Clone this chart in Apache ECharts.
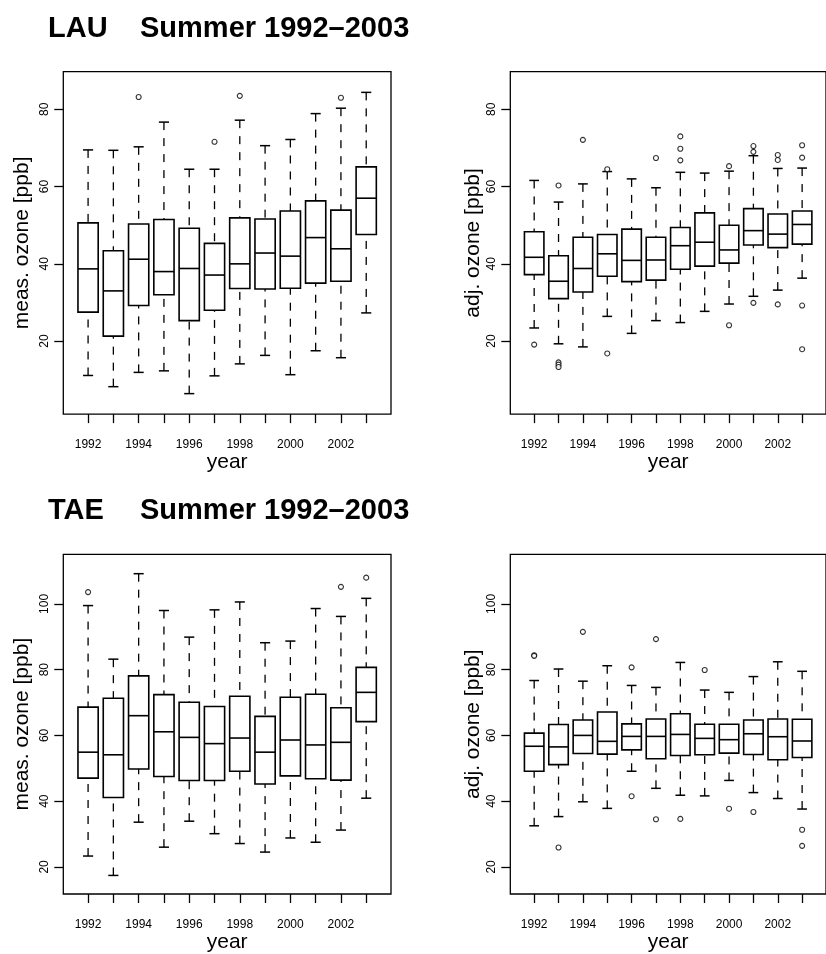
<!DOCTYPE html>
<html>
<head>
<meta charset="utf-8">
<script src="https://cdn.jsdelivr.net/npm/echarts@6/dist/echarts.min.js"></script>
<style>
html,body{margin:0;padding:0;background:#fff;}
#chart{width:826px;height:954px;}
</style>
</head>
<body>
<div id="chart"></div>
<script>
// ---- data (box stats per year: [lower whisker, Q1, median, Q3, upper whisker]) ----
const years = [1992,1993,1994,1995,1996,1997,1998,1999,2000,2001,2002,2003];
const labelYears = [1992,1994,1996,1998,2000,2002];
const ticksTop = [20,40,60,80];
const ticksBottom = [20,40,60,80,100];

const lauMeasBoxes = [
  [11.1,27.5,38.7,50.6,69.5],[8.2,21.3,33.0,43.4,69.4],[11.9,29.2,41.2,50.3,70.3],
  [12.3,32.0,38.0,51.5,76.7],[6.4,25.3,38.8,49.2,64.5],[11.0,28.0,37.1,45.3,64.5],
  [14.1,33.6,40.0,51.9,77.2],[16.3,33.5,42.8,51.6,70.6],[11.3,33.7,42.0,53.7,72.2],
  [17.5,35.0,46.8,56.3,78.9],[15.7,35.5,43.9,53.9,80.3],[27.3,47.6,57.0,65.1,84.4]
];
const lauMeasOut = [[1994,83.2],[1997,71.6],[1998,83.5],[2002,83.0]];

const lauAdjBoxes = [
  [23.4,37.2,41.7,48.3,61.6],[19.3,31.0,35.5,42.1,56.0],[18.5,32.7,38.8,46.9,60.7],
  [26.4,36.8,42.6,47.6,63.9],[22.0,35.4,40.9,49.0,62.0],[25.3,35.8,41.0,46.9,59.7],
  [24.8,38.6,44.7,49.4,63.7],[27.7,39.4,45.6,53.2,63.5],[29.6,40.2,43.6,50.0,64.0],
  [31.6,44.9,48.6,54.3,68.0],[33.2,44.2,47.7,52.9,64.7],[36.3,45.1,50.2,53.7,64.8]
];
const lauAdjOut = [[1992,19.1],[1993,60.3],[1993,14.5],[1993,13.9],[1993,13.3],[1994,72.1],
  [1995,64.5],[1995,16.8],[1997,67.4],[1998,73.0],[1998,69.8],[1998,66.8],[2000,65.3],[2000,24.1],
  [2001,70.5],[2001,69.0],[2001,29.9],[2002,68.2],[2002,66.9],[2002,29.5],
  [2003,70.7],[2003,67.5],[2003,29.2],[2003,17.9]];

const taeMeasBoxes = [
  [23.3,47.0,54.9,68.6,99.5],[17.4,41.1,54.1,71.3,83.2],[33.6,49.8,66.0,78.1,109.2],
  [26.0,47.5,61.1,72.4,98.0],[33.9,46.3,59.4,70.1,89.9],[30.1,46.3,57.5,68.8,98.2],
  [27.1,49.1,59.2,71.9,100.6],[24.5,45.2,54.9,65.8,88.2],[28.8,47.7,58.6,71.6,88.7],
  [27.5,46.8,57.1,72.5,98.6],[31.2,46.4,57.9,68.4,96.2],[40.9,64.2,73.1,80.7,101.7]
];
const taeMeasOut = [[1992,103.6],[2002,105.2],[2003,108.0]];

const taeAdjBoxes = [
  [32.5,49.1,56.7,60.7,76.7],[35.3,51.1,56.5,63.3,80.2],[39.8,54.5,60.0,64.7,76.5],
  [37.8,54.3,58.2,67.1,81.2],[49.1,55.6,59.7,63.5,75.2],[43.9,52.9,59.7,65.0,74.6],
  [41.8,53.9,60.3,66.6,82.2],[41.6,54.1,59.1,63.4,73.8],[46.3,54.6,58.7,63.4,73.1],
  [42.6,54.2,60.5,64.7,77.9],[40.8,52.6,59.6,65.0,82.4],[37.6,53.3,58.3,64.9,79.5]
];
const taeAdjOut = [[1992,84.4],[1992,84.2],[1993,25.9],[1994,91.5],[1996,80.7],[1996,41.5],
  [1997,89.3],[1997,34.5],[1998,34.6],[1999,79.9],[2000,37.7],[2001,36.7],[2003,31.3],[2003,26.4]];

// ---- chart ----
const FONT = "'Liberation Sans', Arial, Helvetica, sans-serif";
const chart = echarts.init(document.getElementById('chart'), null, {renderer:'canvas'});

const panels = [
  {left:63.3,  top:71.7,  boxes:lauMeasBoxes, out:lauMeasOut, yMin:1.1,  yMax:89.75, ticks:ticksTop,    name:'meas. ozone [ppb]', gap:30.5},
  {left:510.3, top:71.7,  boxes:lauAdjBoxes,  out:lauAdjOut,  yMin:1.1,  yMax:89.75, ticks:ticksTop,    name:'adj. ozone [ppb]',  gap:26.5},
  {left:63.3,  top:554.3, boxes:taeMeasBoxes, out:taeMeasOut, yMin:11.75,yMax:115.1, ticks:ticksBottom, name:'meas. ozone [ppb]', gap:30.5},
  {left:510.3, top:554.3, boxes:taeAdjBoxes,  out:taeAdjOut,  yMin:11.75,yMax:115.1, ticks:ticksBottom, name:'adj. ozone [ppb]',  gap:26.5}
];
const W = 327.7, H = 342.4;

function renderBox(params, api) {
  const x = api.value(0), lo = api.value(1), q1 = api.value(2), md = api.value(3), q3 = api.value(4), hi = api.value(5);
  const hw = 0.4, cw = 0.2;
  const a = api.coord([x - hw, q3]), b = api.coord([x + hw, q1]);
  const m1 = api.coord([x - hw, md]), m2 = api.coord([x + hw, md]);
  const pLo = api.coord([x, lo]), pQ1 = api.coord([x, q1]), pQ3 = api.coord([x, q3]), pHi = api.coord([x, hi]);
  const cL1 = api.coord([x - cw, lo]), cL2 = api.coord([x + cw, lo]);
  const cH1 = api.coord([x - cw, hi]), cH2 = api.coord([x + cw, hi]);
  const solid = {stroke:'#000', lineWidth:1.5, fill:null};
  const dashed = {stroke:'#000', lineWidth:1.3, lineDash:[8,8], fill:null};
  return {type:'group', children:[
    {type:'line', shape:{x1:pLo[0], y1:pLo[1], x2:pQ1[0], y2:pQ1[1]}, style:dashed},
    {type:'line', shape:{x1:pHi[0], y1:pHi[1], x2:pQ3[0], y2:pQ3[1]}, style:dashed},
    {type:'line', shape:{x1:cL1[0], y1:cL1[1], x2:cL2[0], y2:cL2[1]}, style:solid},
    {type:'line', shape:{x1:cH1[0], y1:cH1[1], x2:cH2[0], y2:cH2[1]}, style:solid},
    {type:'rect', shape:{x:a[0], y:a[1], width:b[0]-a[0], height:b[1]-a[1]}, style:{stroke:'#000', lineWidth:1.6, fill:'#fff'}},
    {type:'line', shape:{x1:m1[0], y1:m1[1], x2:m2[0], y2:m2[1]}, style:{stroke:'#000', lineWidth:1.6}}
  ]};
}

const grid = [], xAxis = [], yAxis = [], series = [];
panels.forEach((p, i) => {
  grid.push({left:p.left, top:p.top, width:W, height:H, show:true, borderColor:'#000', borderWidth:1.3, backgroundColor:'transparent', containLabel:false});
  xAxis.push({
    type:'value', gridIndex:i, min:1991.02, max:2003.98,
    name:'year', nameLocation:'middle', nameGap:38,
    nameTextStyle:{fontFamily:FONT, fontSize:21, color:'#000'},
    axisLine:{show:false},
    axisTick:{show:true, length:9, lineStyle:{color:'#000', width:1.3}, customValues:years},
    axisLabel:{show:true, margin:25, fontFamily:FONT, fontSize:12, color:'#000', customValues:labelYears, formatter:v=>String(v), hideOverlap:false},
    splitLine:{show:false}
  });
  yAxis.push({
    type:'value', gridIndex:i, min:p.yMin, max:p.yMax,
    name:p.name, nameLocation:'middle', nameGap:p.gap, nameRotate:90,
    nameTextStyle:{fontFamily:FONT, fontSize:21, color:'#000'},
    axisLine:{show:false},
    axisTick:{show:true, length:9, lineStyle:{color:'#000', width:1.3}, customValues:p.ticks},
    axisLabel:{show:true, rotate:90, margin:13, fontFamily:FONT, fontSize:12, color:'#000', customValues:p.ticks, hideOverlap:false},
    splitLine:{show:false}
  });
  series.push({
    type:'custom', xAxisIndex:i, yAxisIndex:i,
    renderItem:renderBox,
    encode:{x:0, y:[1,2,3,4,5]},
    data:p.boxes.map((b, k) => [years[k]].concat(b)),
    silent:true, animation:false, clip:false
  });
  series.push({
    type:'scatter', xAxisIndex:i, yAxisIndex:i,
    data:p.out, symbol:'circle', symbolSize:5,
    itemStyle:{color:'#fff', borderColor:'#000', borderWidth:1.1},
    silent:true, animation:false, z:5
  });
});

const titleStyle = {fontFamily:FONT, fontSize:29, fontWeight:'bold', fill:'#000', verticalAlign:'top'};
chart.setOption({
  backgroundColor:'#fff',
  animation:false,
  grid, xAxis, yAxis, series,
  graphic:[
    {type:'text', left:48, top:14, style:Object.assign({text:'LAU'}, titleStyle)},
    {type:'text', left:140, top:14, style:Object.assign({text:'Summer 1992–2003'}, titleStyle)},
    {type:'text', left:48, top:496.6, style:Object.assign({text:'TAE'}, titleStyle)},
    {type:'text', left:140, top:496.6, style:Object.assign({text:'Summer 1992–2003'}, titleStyle)}
  ]
});
</script>
</body>
</html>
